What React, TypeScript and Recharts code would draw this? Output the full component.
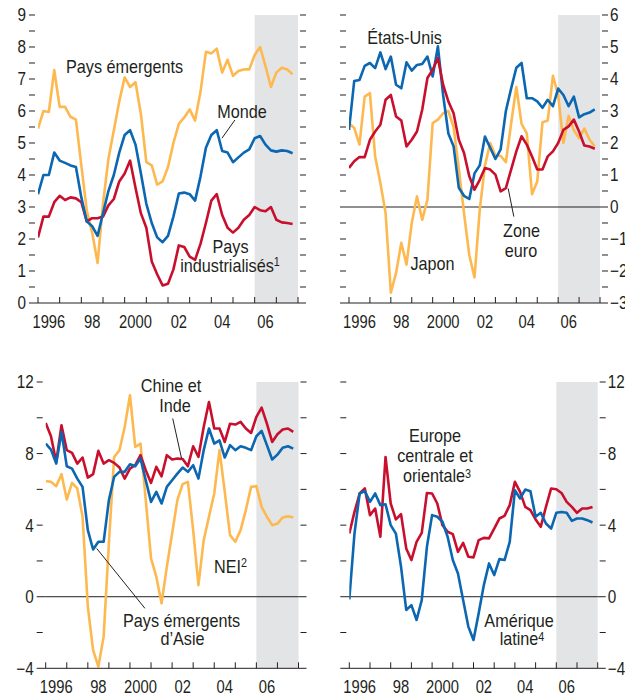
import React from "react";
import { LineChart, Line, XAxis, YAxis, ReferenceArea, ReferenceLine } from "recharts";

const FONT = "'Liberation Sans', Arial, sans-serif";
const INK = "#231f20";
const ORANGE = "#fdb950";
const BLUE = "#0b67b2";
const RED = "#c8102e";
const SHADE = "#e3e4e6";

// quarterly observations, 1996T1 .. 2007T4
const years = [1996, 1997, 1998, 1999, 2000, 2001, 2002, 2003, 2004, 2005, 2006, 2007];
const quarterStep = [0, 0.25, 0.5, 0.75];
const quarters = years.flatMap((y) => quarterStep.map((q) => y + q));

const xTicks = [1996, 1997, 1998, 1999, 2000, 2001, 2002, 2003, 2004, 2005, 2006, 2007, 2008];
const xTickLabels: Record<number, string> = {
  1996: "1996",
  1998: "98",
  2000: "2000",
  2002: "02",
  2004: "04",
  2006: "06",
};
const forecastFrom = 2006;
const forecastTo = 2008;

// panel 1 : monde
const paysEmergents = [
  5.45, 6.0, 5.97, 7.28, 6.13, 6.13, 5.82, 5.73, 4.3, 2.9, 2.2, 1.25,
  3.1, 4.5, 5.4, 6.3, 7.05, 6.75, 6.9, 5.9, 4.4, 4.3, 3.7, 3.8,
  4.25, 5.0, 5.6, 5.8, 6.05, 5.7, 6.6, 7.85, 7.8, 7.95, 7.2, 7.6,
  7.1, 7.25, 7.3, 7.3, 7.75, 8.0, 7.4, 6.75, 7.2, 7.35, 7.3, 7.15,
];
const monde = [
  3.4, 4.0, 4.0, 4.7, 4.45, 4.38, 4.3, 4.25, 3.3, 2.55, 2.4, 2.1,
  2.8, 3.5, 4.0, 4.7, 5.25, 5.4, 4.95, 4.05, 3.1, 2.5, 2.05, 1.9,
  2.1, 2.7, 3.42, 3.45, 3.4, 3.2, 3.95, 4.85, 5.25, 5.4, 4.75, 4.7,
  4.4, 4.55, 4.7, 4.8, 5.15, 5.22, 4.95, 4.77, 4.73, 4.77, 4.75, 4.68,
];
const paysIndustrialises = [
  2.05, 2.7, 2.7, 3.15, 3.35, 3.22, 3.3, 3.27, 3.15, 2.55, 2.65, 2.65,
  2.7, 3.05, 3.25, 3.8, 4.05, 4.45, 3.6, 2.8, 2.35, 1.3, 0.9, 0.55,
  0.6, 1.05, 1.8, 1.75, 1.45, 1.35, 1.85, 2.5, 3.2, 3.4, 2.75, 2.35,
  2.2, 2.35, 2.6, 2.75, 3.0, 2.9, 2.87, 3.0, 2.6, 2.52, 2.5, 2.47,
];

// panel 2 : grands pays avances
const etatsUnis = [
  2.41, 3.94, 3.97, 4.41, 4.5, 4.34, 4.83, 4.31, 4.7, 3.82, 3.71, 4.52,
  4.26, 4.44, 4.47, 4.7, 4.08, 5.02, 3.5, 2.3, 1.9, 0.6, 0.35, 0.25,
  1.05, 1.3, 2.2, 1.85, 1.5, 1.8, 3.0, 3.7, 4.35, 4.5, 3.4, 3.4,
  3.3, 3.1, 3.35, 3.15, 3.7, 3.5, 3.15, 3.45, 2.8, 2.9, 2.95, 3.05,
];
const japon = [
  2.62, 2.47, 1.95, 3.45, 3.56, 1.58, 0.75, -0.19, -2.68, -2.06, -1.12, -1.8,
  -0.5, 0.33, -0.4, 0.23, 2.62, 2.73, 2.93, 3.0, 2.5, 1.2, -0.2, -1.5,
  -2.2, -0.1, 1.3, 2.0, 1.6, 1.6, 1.4, 2.6, 3.75, 2.6, 2.3, 0.4,
  0.8, 2.65, 2.7, 4.1, 3.5, 2.0, 2.85, 2.4, 2.15, 2.45, 2.1, 1.9,
];
const zoneEuro = [
  1.22, 1.43, 1.56, 1.56, 2.1, 2.36, 2.57, 3.35, 3.5, 2.83, 2.7, 1.89,
  2.1, 2.36, 3.04, 4.03, 4.29, 4.65, 3.82, 3.3, 2.93, 2.1, 1.69, 0.96,
  0.54, 0.85, 1.22, 1.17, 1.01, 0.49, 0.59, 1.17, 1.74, 2.21, 1.95, 1.58,
  1.17, 1.17, 1.58, 1.74, 2.0, 2.41, 2.52, 2.73, 2.36, 1.92, 1.89, 1.82,
];

// panel 3 : asie
const chineInde = [
  9.71, 8.97, 7.53, 9.58, 8.19, 8.04, 7.44, 7.78, 6.66, 6.85, 8.15, 7.44,
  7.63, 7.48, 7.22, 6.6, 7.16, 7.35, 7.91, 7.07, 6.36, 7.26, 6.73, 7.91,
  7.67, 7.72, 7.7, 7.29, 8.41, 7.81, 9.49, 10.88, 9.4, 9.4, 8.65, 9.67,
  9.62, 9.77, 9.4, 9.15, 10.05, 10.57, 9.67, 8.65, 9.08, 9.34, 9.4, 9.21,
];
const asieEmergente = [
  8.56, 8.22, 7.44, 9.21, 7.29, 7.16, 6.6, 6.14, 3.72, 2.64, 3.07, 3.07,
  5.4, 6.7, 6.98, 6.98, 7.4, 7.29, 7.72, 6.51, 5.3, 5.86, 5.21, 6.14,
  6.51, 6.88, 7.22, 6.98, 7.35, 6.6, 8.19, 9.4, 8.56, 8.74, 7.78, 8.47,
  8.19, 8.41, 8.32, 8.19, 8.97, 9.27, 8.47, 7.67, 7.94, 8.33, 8.41, 8.28,
];
const nei = [
  6.47, 6.42, 6.18, 6.85, 5.43, 6.36, 6.05, 4.47, -0.56, -2.98, -3.9, -2.23,
  3.0, 7.81, 8.19, 9.49, 11.26, 8.37, 8.56, 5.4, 2.14, 1.12, -0.37, 1.67,
  3.53, 5.4, 6.29, 6.42, 3.72, 0.65, 3.16, 4.47, 5.77, 8.19, 5.86, 3.44,
  3.07, 3.72, 4.84, 6.14, 6.18, 5.02, 4.47, 4.0, 4.09, 4.43, 4.5, 4.43,
];

// panel 4 : europe et amerique latine
const europeCO = [
  3.53, 4.74, 5.77, 6.05, 4.56, 4.93, 3.35, 7.81, 5.21, 4.32, 4.61, 2.7,
  2.05, 3.07, 3.57, 5.8, 5.77, 5.21, 4.0, 3.63, 3.5, 2.51, 3.01, 2.23,
  2.2, 3.16, 3.29, 3.26, 3.81, 4.37, 4.52, 5.12, 6.42, 5.86, 5.02, 4.84,
  4.32, 3.91, 5.02, 6.05, 6.01, 5.8, 5.3, 5.02, 4.69, 4.93, 4.93, 5.02,
];
const ameriqueLatine = [
  -0.15, 3.53, 5.77, 5.9, 5.3, 5.77, 5.12, 5.17, 4.0, 3.53, 1.67, -0.74,
  -0.47, -1.3, -0.19, 2.79, 4.56, 4.47, 4.19, 3.35, 2.05, 1.3, -0.19, -1.67,
  -2.42, -0.93, 0.65, 1.86, 1.21, 2.1, 2.05, 3.07, 5.95, 5.49, 5.99, 5.9,
  4.47, 4.69, 4.09, 3.81, 4.69, 4.74, 4.69, 4.24, 4.37, 4.37, 4.28, 4.15,
];

const ticksP1 = [0, 0.5, 1, 1.5, 2, 2.5, 3, 3.5, 4, 4.5, 5, 5.5, 6, 6.5, 7, 7.5, 8, 8.5, 9];
const labelsP1 = [0, 1, 2, 3, 4, 5, 6, 7, 8, 9];
const ticksP2 = [-3, -2.5, -2, -1.5, -1, -0.5, 0, 0.5, 1, 1.5, 2, 2.5, 3, 3.5, 4, 4.5, 5, 5.5, 6];
const labelsP2 = [-3, -2, -1, 0, 1, 2, 3, 4, 5, 6];
const ticksP34 = [-4, -2, 0, 2, 4, 6, 8, 10, 12];
const labelsP34 = [-4, 0, 4, 8, 12];

const fmt = (v: number) => (v < 0 ? "\u2212" + Math.abs(v) : String(v));

// narrow type: Arial metrics squeezed horizontally
function Narrow({ x, y, anchor = "middle", sx = 0.9, size = 18, dy, children }: any) {
  return (
    <text
      transform={`translate(${x} ${y}) scale(${sx} 1)`}
      dy={dy}
      textAnchor={anchor}
      fontFamily={FONT}
      fontSize={size}
      fill={INK}
    >
      {children}
    </text>
  );
}

function Panel({ box, margin, domain, yTicks, yLabels, side, series, zero, leaders }: any) {
  const plotW = box.w - margin.left - margin.right - 1;
  const yearW = plotW / 12;
  const rows = quarters.map((t, i) => {
    const r: any = { t };
    series.forEach((s: any) => (r[s.key] = s.values[i]));
    return r;
  });

  const xTick = (p: any) => {
    const { x, y, payload } = p;
    const label = xTickLabels[payload.value];
    return (
      <g>
        <line x1={x} x2={x} y1={y} y2={y - 6} stroke={INK} strokeWidth={1} />
        {label && (
          <Narrow x={x + yearW / 2} y={y + 25} sx={0.82}>
            {label}
          </Narrow>
        )}
      </g>
    );
  };

  const yTick = (p: any) => {
    const { x, y, payload } = p;
    const v = payload.value;
    const edge = v === domain[0] || (zero && v === 0);
    const lx = side === "left" ? x : x - plotW;
    const rx = lx + plotW;
    const show = yLabels.includes(v);
    return (
      <g>
        <line x1={lx - 9} x2={edge ? lx : lx - 3} y1={y} y2={y} stroke={INK} strokeWidth={1} />
        <line x1={edge ? rx : rx + 2} x2={rx + 8} y1={y} y2={y} stroke={INK} strokeWidth={1} />
        {show && (
          <Narrow
            x={side === "left" ? lx - 12 : rx + 10}
            y={y}
            dy="0.36em"
            anchor={side === "left" ? "end" : "start"}
            sx={0.85}
          >
            {fmt(v)}
          </Narrow>
        )}
      </g>
    );
  };

  return (
    <div style={{ position: "absolute", left: box.x, top: box.y }}>
      <LineChart width={box.w} height={box.h} data={rows} margin={margin}>
        <ReferenceArea x1={forecastFrom} x2={forecastTo} fill={SHADE} fillOpacity={1} stroke="none" />
        {zero && <ReferenceLine y={0} stroke={INK} strokeWidth={1} />}
        <XAxis
          type="number"
          dataKey="t"
          domain={[1996, 2008]}
          ticks={xTicks}
          interval={0}
          height={1}
          tickSize={0}
          tickMargin={0}
          tickLine={false}
          axisLine={{ stroke: INK, strokeWidth: 1 }}
          tick={xTick}
          allowDataOverflow
        />
        <YAxis
          type="number"
          orientation={side}
          domain={domain}
          ticks={yTicks}
          interval={0}
          width={1}
          tickSize={0}
          tickMargin={0}
          tickLine={false}
          axisLine={false}
          tick={yTick}
          allowDataOverflow
        />
        {series.map((s: any) => (
          <Line
            key={s.key}
            type="linear"
            dataKey={s.key}
            stroke={s.color}
            strokeWidth={2.6}
            strokeLinejoin="round"
            dot={false}
            activeDot={false}
            isAnimationActive={false}
          />
        ))}
        {(leaders || []).map((l: number[], i: number) => (
          <ReferenceLine
            key={i}
            segment={[
              { x: l[0], y: l[1] },
              { x: l[2], y: l[3] },
            ]}
            stroke={INK}
            strokeWidth={1}
          />
        ))}
      </LineChart>
    </div>
  );
}

const notes = [
  { x: 124.5, y: 73, text: "Pays émergents" },
  { x: 242, y: 118, text: "Monde" },
  { x: 230.5, y: 253, text: "Pays" },
  { x: 230, y: 272, text: "industrialisés", sup: "1", dy: -6 },
  { x: 404.5, y: 43.5, text: "États-Unis" },
  { x: 521.5, y: 236.5, text: "Zone" },
  { x: 521, y: 256.5, text: "euro" },
  { x: 432.5, y: 269.5, text: "Japon" },
  { x: 171, y: 391.5, text: "Chine et" },
  { x: 175, y: 412, text: "Inde" },
  { x: 230.5, y: 573, text: "NEI", sup: "2", dy: -6 },
  { x: 181.5, y: 626.5, text: "Pays émergents" },
  { x: 182.5, y: 645, text: "d\u2019Asie" },
  { x: 435, y: 441.5, text: "Europe" },
  { x: 435, y: 461.5, text: "centrale et" },
  { x: 437, y: 481.5, text: "orientale", sup: "3", dy: -4 },
  { x: 519, y: 627, text: "Amérique" },
  { x: 522, y: 645, text: "latine", sup: "4", dy: -4 },
];

export default function App() {
  return (
    <div style={{ position: "absolute", left: 0, top: 0, width: 625, height: 694, background: "#fff" }}>
      <Panel
        box={{ x: 0, y: 0, w: 310, h: 340 }}
        margin={{ top: 15, right: 12, bottom: 36, left: 37 }}
        domain={[0, 9]}
        yTicks={ticksP1}
        yLabels={labelsP1}
        side="left"
        series={[
          { key: "emergents", values: paysEmergents, color: ORANGE },
          { key: "industrialises", values: paysIndustrialises, color: RED },
          { key: "monde", values: monde, color: BLUE },
        ]}
        leaders={[[2004.49, 5.15, 2005.09, 5.72]]}
      />
      <Panel
        box={{ x: 310, y: 0, w: 315, h: 340 }}
        margin={{ top: 15, right: 24, bottom: 36, left: 39 }}
        domain={[-3, 6]}
        yTicks={ticksP2}
        yLabels={labelsP2}
        side="right"
        zero
        series={[
          { key: "japon", values: japon, color: ORANGE },
          { key: "usa", values: etatsUnis, color: BLUE },
          { key: "euro", values: zoneEuro, color: RED },
        ]}
        leaders={[[2003.61, 0.58, 2003.88, -0.3]]}
      />
      <Panel
        box={{ x: 0, y: 360, w: 310, h: 334 }}
        margin={{ top: 22, right: 11.5, bottom: 24.7, left: 44.7 }}
        domain={[-4, 12]}
        yTicks={ticksP34}
        yLabels={labelsP34}
        side="left"
        zero
        series={[
          { key: "nei", values: nei, color: ORANGE },
          { key: "chine", values: chineInde, color: RED },
          { key: "asie", values: asieEmergente, color: BLUE },
        ]}
        leaders={[
          [2002.03, 9.96, 2002.45, 7.72],
          [1998.42, 2.7, 2000.71, -0.65],
        ]}
      />
      <Panel
        box={{ x: 310, y: 360, w: 315, h: 334 }}
        margin={{ top: 22, right: 26.3, bottom: 24.7, left: 39.3 }}
        domain={[-4, 12]}
        yTicks={ticksP34}
        yLabels={labelsP34}
        side="right"
        zero
        series={[
          { key: "europe", values: europeCO, color: RED },
          { key: "amlat", values: ameriqueLatine, color: BLUE },
        ]}
      />
      <svg
        width={625}
        height={694}
        style={{ position: "absolute", left: 0, top: 0, pointerEvents: "none" }}
      >
        {notes.map((n, i) => (
          <Narrow key={i} x={n.x} y={n.y}>
            {n.text}
            {n.sup && (
              <tspan fontSize={12} dy={n.dy}>
                {n.sup}
              </tspan>
            )}
          </Narrow>
        ))}
      </svg>
    </div>
  );
}
